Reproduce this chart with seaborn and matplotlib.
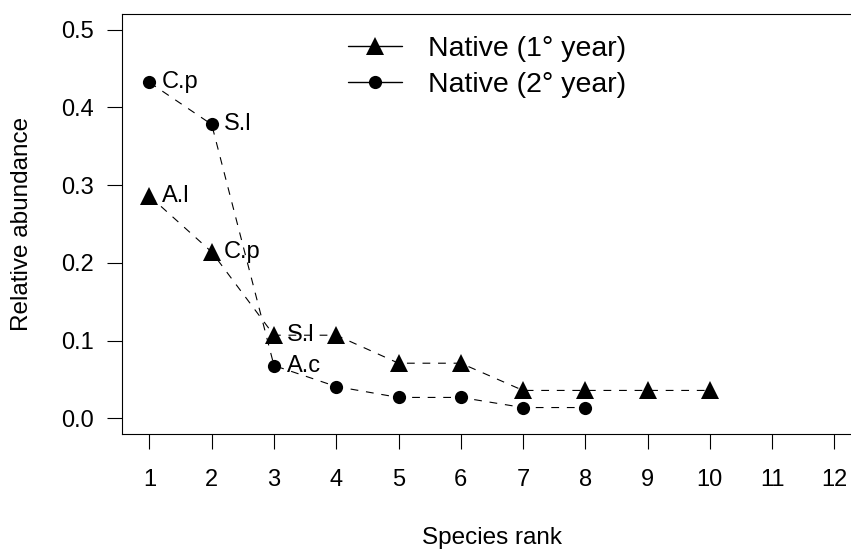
import matplotlib
matplotlib.use("Agg")
import matplotlib.pyplot as plt
from matplotlib.lines import Line2D
import seaborn as sns
import pandas as pd

# species rank / relative abundance
rank_year1 = [1, 2, 3, 4, 5, 6, 7, 8, 9, 10]
abund_year1 = [0.286, 0.214, 0.107, 0.107, 0.071, 0.071, 0.036, 0.036, 0.036, 0.036]
labels_year1 = ["A.l", "C.p", "S.l"]

rank_year2 = [1, 2, 3, 4, 5, 6, 7, 8]
abund_year2 = [0.432, 0.378, 0.068, 0.041, 0.027, 0.027, 0.014, 0.014]
labels_year2 = ["C.p", "S.l", "A.c"]

legend_labels = ["Native (1\u00b0 year)", "Native (2\u00b0 year)"]
x_ticks = list(range(1, 13))
y_ticks = [0.0, 0.1, 0.2, 0.3, 0.4, 0.5]


def main():
    sns.set_style("ticks")
    plt.rcParams["font.family"] = ["Liberation Sans", "DejaVu Sans"]
    plt.rcParams["text.color"] = "black"
    plt.rcParams["axes.labelcolor"] = "black"
    plt.rcParams["xtick.color"] = "black"
    plt.rcParams["ytick.color"] = "black"
    FS = 17

    df1 = pd.DataFrame({"rank": rank_year1, "abund": abund_year1})
    df2 = pd.DataFrame({"rank": rank_year2, "abund": abund_year2})

    fig = plt.figure(figsize=(8.51, 5.49), dpi=100)
    ax = fig.add_axes([0.1434, 0.2095, 0.8693, 0.765])

    dash = (0, (7, 7))
    sns.lineplot(df1, x="rank", y="abund", ax=ax, color="black", linewidth=0.8,
                 linestyle=dash, marker="^", markersize=12.5, markeredgewidth=0)
    sns.lineplot(df2, x="rank", y="abund", ax=ax, color="black", linewidth=0.8,
                 linestyle=dash, marker="o", markersize=9.5, markeredgewidth=0)

    for x, y, lab in zip(rank_year1, abund_year1, labels_year1):
        ax.annotate(lab, (x, y), xytext=(9, 0), textcoords="offset points",
                    ha="left", va="center", fontsize=FS)
    for x, y, lab in zip(rank_year2, abund_year2, labels_year2):
        ax.annotate(lab, (x, y), xytext=(9, 0), textcoords="offset points",
                    ha="left", va="center", fontsize=FS)

    ax.set_xlim(0.56, 12.44)
    ax.set_ylim(-0.02, 0.52)
    ax.set_xticks(x_ticks)
    ax.set_yticks(y_ticks)
    ax.set_yticklabels([f"{v:.1f}" for v in y_ticks])
    ax.tick_params(axis="both", labelsize=FS, length=11, width=0.8, color="black",
                   labelcolor="black")
    ax.tick_params(axis="x", pad=14)
    ax.tick_params(axis="y", pad=9)

    for sp in ax.spines.values():
        sp.set_visible(True)
        sp.set_color("black")
        sp.set_linewidth(0.8)
    ax.spines["right"].set_visible(False)

    ax.set_xlabel("Species rank", fontsize=17.5, color="black")
    ax.set_ylabel("Relative abundance", fontsize=17.5, color="black")
    ax.xaxis.set_label_coords(0.5, -0.222)
    ax.yaxis.set_label_coords(-0.12, 0.5)

    handles = [
        Line2D([], [], color="black", linewidth=1, marker="^", markersize=12.5, markeredgewidth=0),
        Line2D([], [], color="black", linewidth=1, marker="o", markersize=9.5, markeredgewidth=0),
    ]
    leg = ax.legend(handles, legend_labels, loc="upper left",
                    bbox_to_anchor=(337 / 851, 1 - 25 / 549), bbox_transform=fig.transFigure,
                    frameon=False, fontsize=20.5, handlelength=1.9, handletextpad=0.9,
                    labelspacing=0.34, borderaxespad=0, borderpad=0.4)
    for t in leg.get_texts():
        t.set_color("black")

    fig.savefig("out.png", dpi=100)
    plt.close()


if __name__ == "__main__":
    main()
